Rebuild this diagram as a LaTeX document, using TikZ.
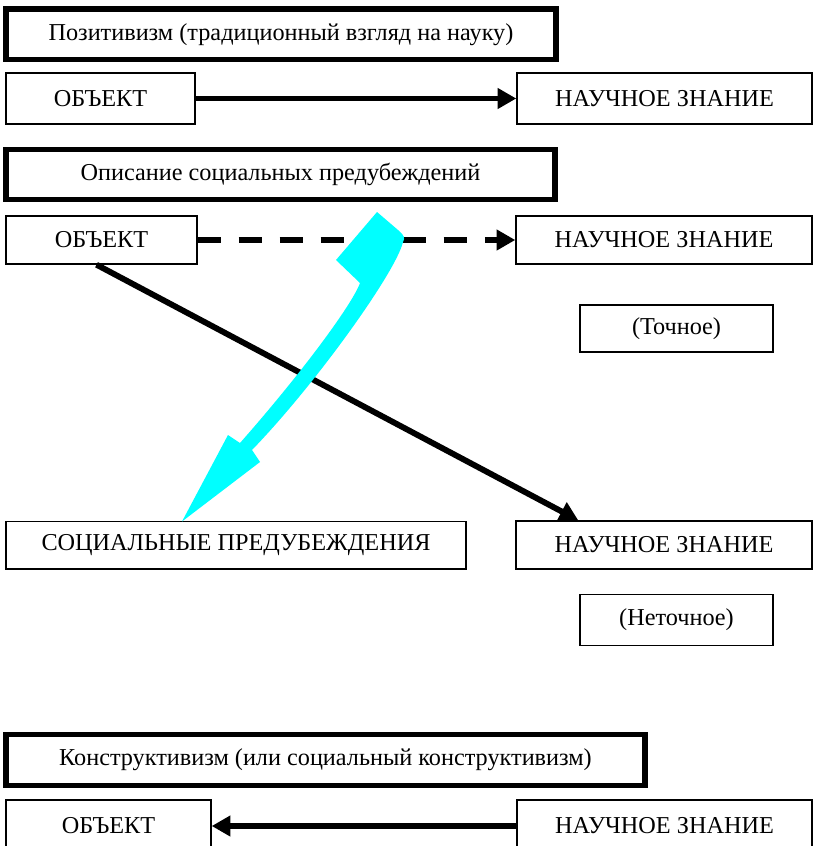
\documentclass[tikz,border=0pt]{standalone}
\usepackage{fontspec}
\setmainfont{Liberation Serif}
\usetikzlibrary{calc,arrows.meta}
\definecolor{aqua}{RGB}{0,255,255}

\begin{document}
\begin{tikzpicture}[x=0.03cm, y=-0.03cm,
	txt/.style={font=\fontsize{20.7}{24}\selectfont, inner sep=0pt},
	thickbox/.style={txt, draw, line width=5pt},
	thinbox/.style={txt, draw, line width=1.2pt},
	bigarrow/.style={line width=5pt, -{Triangle[length=16pt,width=17pt]}}]
			%%%%% START %%%%%
			
			\useasboundingbox (0,0) rectangle (815,846);
			
			\node[thickbox, minimum width=16.5cm, minimum height=1.515cm] (pozit) at (281, 34.25) {Позитивизм (традиционный взгляд на науку)};
			\node[thinbox, minimum width=5.67cm, minimum height=1.53cm] (obj1) at (100.5, 98.5) {ОБЪЕКТ};
			\node[thinbox, minimum width=8.85cm, minimum height=1.53cm] (nz1) at (664.5, 98.5) {НАУЧНОЕ ЗНАНИЕ};
			\draw[bigarrow] (obj1) -- (nz1);
			
			\node[thickbox, minimum width=16.47cm, minimum height=1.5cm] (opis) at (280.5, 174.5) {Описание социальных предубеждений};
			\node[thinbox, minimum width=5.73cm, minimum height=1.44cm] (obj2) at (101.5, 240) {ОБЪЕКТ};
			\node[thinbox, minimum width=8.88cm, minimum height=1.44cm] (nz2) at (664, 240) {НАУЧНОЕ ЗНАНИЕ};
			\node[thinbox, minimum width=5.79cm, minimum height=1.41cm] (tochn) at (676.5, 328.5) {(Точное)};
			\draw[bigarrow, dash pattern=on 20pt off 15pt] (obj2) -- (nz2);
			
			\node[thinbox, minimum width=13.8cm, minimum height=1.425cm] (socpred) at (236, 545.25) {СОЦИАЛЬНЫЕ ПРЕДУБЕЖДЕНИЯ};
			\node[thinbox, minimum width=8.88cm, minimum height=1.44cm] (nz3) at (664, 545) {НАУЧНОЕ ЗНАНИЕ};
			\node[thinbox, minimum width=5.79cm, minimum height=1.545cm] (netochn) at (676.5, 620) {(Неточное)};
			\draw[bigarrow] ($(obj2.south)+(-5,0)$) -- ($(nz3.north west)+(63,0)$);
			
			% cyan curved arrow
			\fill[aqua] (377, 212) -- (398, 230) .. controls (405, 236) and (405, 238) .. (403, 242)
				.. controls (396, 272) and (315, 385) .. (252, 450) -- (260, 462) -- (182, 521.5)
				-- (228, 435) -- (240, 443) .. controls (300, 375) and (352, 305) .. (360, 283)
				-- (336, 260) -- cycle;
			
			\node[thickbox, minimum width=19.17cm, minimum height=1.53cm] (konstr) at (325.5, 760) {Конструктивизм (или социальный конструктивизм)};
			\node[thinbox, minimum width=6.15cm, minimum height=1.56cm] (obj4) at (108.5, 826) {ОБЪЕКТ};
			\node[thinbox, minimum width=8.85cm, minimum height=1.56cm] (nz4) at (664.5, 826) {НАУЧНОЕ ЗНАНИЕ};
			\draw[bigarrow] (nz4) -- (obj4);
			
			%%%%% END %%%%%
\end{tikzpicture}
\end{document}
